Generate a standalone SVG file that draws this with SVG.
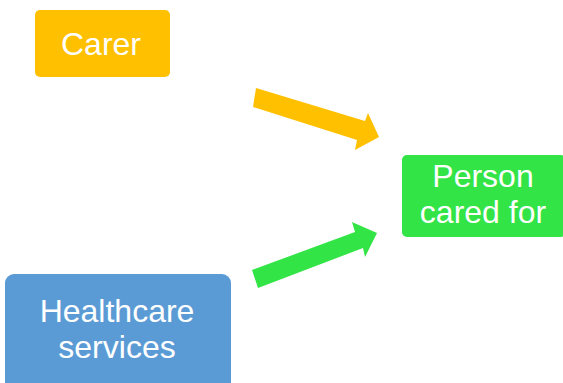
<svg xmlns="http://www.w3.org/2000/svg" width="563" height="383" viewBox="0 0 563 383">
  <style>
    .label { font-family: "Liberation Sans", Arial, sans-serif; font-size: 32px; fill: #ffffff; text-anchor: middle; }
  </style>
  <rect width="563" height="383" fill="#ffffff"/>
  <g id="carer">
    <rect x="35" y="10" width="135" height="67" rx="5" fill="#FFC000"/>
    <text class="label" x="101" y="55">Carer</text>
  </g>
  <g id="person">
    <rect x="402" y="155" width="164" height="82" rx="5" fill="#32E446"/>
    <text class="label" x="483" y="187">Person</text>
    <text class="label" x="483" y="223">cared for</text>
  </g>
  <g id="healthcare">
    <rect x="5" y="274" width="226" height="120" rx="9" fill="#5B9BD5"/>
    <text class="label" x="117" y="322">Healthcare</text>
    <text class="label" x="117" y="358">services</text>
  </g>
  <g id="connectors">
    <polygon points="256,88 365,121 368,113 379,137 355,150 357,140 253,107" fill="#FFC000"/>
    <polygon points="252,270 355,232 352,222 377,233 365,257 363,248 258,288" fill="#32E446"/>
  </g>
</svg>
